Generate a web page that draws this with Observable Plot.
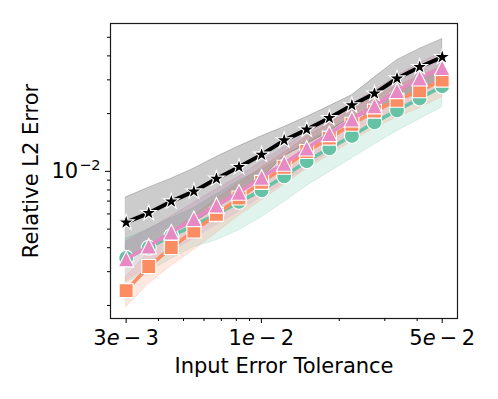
<!DOCTYPE html>
<html><head><meta charset="utf-8">
<script src="https://cdn.jsdelivr.net/npm/d3@7"></script>
<script src="https://cdn.jsdelivr.net/npm/@observablehq/plot@0.6"></script>
<style>body{margin:0;background:#fff} svg{display:block}</style>
</head><body><div id="chart"></div>
<script>
// Input error tolerance (x)
const tolerance = [0.003, 0.003668, 0.004484, 0.005482, 0.006702, 0.008194, 0.01002, 0.01225, 0.01497, 0.01831, 0.02238, 0.02736, 0.03345, 0.04090, 0.05];

// Series (drawing order): circle, square, triangle, star
const seriesNames = ["circle", "square", "triangle", "star"];
const seriesColors = ["#66c2a5", "#fc8d62", "#e78ac3", "#000000"];

const circleMean = [3.54e-3, 4.00e-3, 4.60e-3, 5.23e-3, 5.97e-3, 6.93e-3, 7.96e-3, 9.42e-3, 1.13e-2, 1.32e-2, 1.53e-2, 1.80e-2, 2.08e-2, 2.40e-2, 2.78e-2];
const circleSd   = [0.9e-3, 1.0e-3, 1.1e-3, 1.2e-3, 1.6e-3, 2.0e-3, 2.2e-3, 2.5e-3, 2.9e-3, 3.3e-3, 3.6e-3, 4.2e-3, 4.6e-3, 5.3e-3, 6.2e-3];

const squareMean = [2.39e-3, 3.19e-3, 4.01e-3, 4.89e-3, 5.97e-3, 7.27e-3, 8.76e-3, 1.05e-2, 1.27e-2, 1.49e-2, 1.76e-2, 2.06e-2, 2.35e-2, 2.63e-2, 2.99e-2];
const squareSd   = [0.43e-3, 0.6e-3, 0.8e-3, 1.0e-3, 1.2e-3, 1.4e-3, 1.7e-3, 2.0e-3, 2.4e-3, 2.8e-3, 3.3e-3, 3.8e-3, 4.4e-3, 4.9e-3, 5.5e-3];

const triangleMean = [3.49e-3, 4.07e-3, 4.82e-3, 5.66e-3, 6.65e-3, 7.77e-3, 9.30e-3, 1.10e-2, 1.32e-2, 1.57e-2, 1.87e-2, 2.19e-2, 2.63e-2, 3.06e-2, 3.47e-2];
const triangleSd   = [0.8e-3, 0.9e-3, 1.0e-3, 1.2e-3, 1.4e-3, 1.6e-3, 1.9e-3, 2.3e-3, 2.7e-3, 3.2e-3, 3.8e-3, 4.4e-3, 5.2e-3, 6.0e-3, 6.8e-3];

const starMean = [5.42e-3, 6.06e-3, 6.97e-3, 7.86e-3, 9.16e-3, 1.053e-2, 1.222e-2, 1.451e-2, 1.651e-2, 1.897e-2, 2.211e-2, 2.544e-2, 3.05e-2, 3.50e-2, 3.94e-2];
const starSd   = [1.90e-3, 2.16e-3, 2.19e-3, 2.47e-3, 2.72e-3, 2.97e-3, 3.01e-3, 2.52e-3, 2.69e-3, 2.87e-3, 2.82e-3, 5.39e-3, 7.5e-3, 8.5e-3, 9.5e-3];

// Axis ticks
const xMajorTicks = [0.003, 0.01, 0.05];
const xMajorLabels = ["3e-3", "1e-2", "5e-2"];
const xMinorTicks = [0.004, 0.005, 0.006, 0.007, 0.008, 0.009, 0.02, 0.03, 0.04];
const yMajorTicks = [0.01];
const yMinorTicks = [0.002, 0.003, 0.004, 0.005, 0.006, 0.007, 0.008, 0.009, 0.02, 0.03, 0.04, 0.05];

const means = [circleMean, squareMean, triangleMean, starMean];
const sds = [circleSd, squareSd, triangleSd, starSd];
const rows = [];
seriesNames.forEach((s, k) => {
  tolerance.forEach((t, i) => {
    rows.push({series: s, x: t, y: means[k][i], lo: means[k][i] - sds[k][i], hi: means[k][i] + sds[k][i]});
  });
});
const xTickRows = xMajorTicks.map((t, i) => ({x: t, label: xMajorLabels[i]}));

// matplotlib-like marker shapes (size = pi r^2)
const rad = size => Math.sqrt(size / Math.PI);
const mplSquare = {draw(c, size) { const r = rad(size); c.rect(-r, -r, 2 * r, 2 * r); }};
const mplTriangle = {draw(c, size) { const r = rad(size); c.moveTo(0, -r); c.lineTo(r, r); c.lineTo(-r, r); c.closePath(); }};
const mplStar = {draw(c, size) {
  const R = rad(size), ri = R * 0.381966;
  for (let i = 0; i < 10; i++) {
    const rr = i % 2 ? ri : R, a = -Math.PI / 2 + i * Math.PI / 5;
    const px = rr * Math.cos(a), py = rr * Math.sin(a);
    if (i === 0) c.moveTo(px, py); else c.lineTo(px, py);
  }
  c.closePath();
}};
const symbols = ["circle", mplSquare, mplTriangle, mplStar];
const markerR = [7.5, 7, 7.8, 8.3];
const lineW = [3.5, 3.5, 3.5, 4];

const marks = [];
seriesNames.forEach((s, k) => {
  marks.push(Plot.areaY(rows, {filter: d => d.series === s, x: "x", y1: "lo", y2: "hi",
    fill: seriesColors[k], fillOpacity: 0.2, stroke: seriesColors[k], strokeOpacity: 0.2, strokeWidth: 1}));
});
seriesNames.forEach((s, k) => {
  marks.push(Plot.line(rows, {filter: d => d.series === s, x: "x", y: "y", stroke: seriesColors[k], strokeWidth: lineW[k]}));
  marks.push(Plot.dot(rows, {filter: d => d.series === s, x: "x", y: "y", symbol: () => symbols[k], r: markerR[k],
    fill: seriesColors[k], stroke: "white", strokeWidth: 1.1}));
});
marks.push(
  Plot.frame({stroke: "#1a1a1a", strokeWidth: 1.2}),
  Plot.axisX(xMajorTicks, {tickSize: 5, tickFormat: () => "",
    label: "Input Error Tolerance", labelAnchor: "center", labelArrow: "none", labelOffset: 54}),
  Plot.text(xTickRows, {x: "x", text: "label", frameAnchor: "bottom", lineAnchor: "top", dy: 12, fontSize: 21}),
  Plot.axisX(xMinorTicks, {tickSize: 3, tickFormat: () => "", label: null}),
  Plot.axisY(yMajorTicks, {tickSize: 5, tickPadding: 5, tickFormat: () => "10-2",
    label: "Relative L2 Error", labelAnchor: "center", labelArrow: "none", labelOffset: 87}),
  Plot.axisY(yMinorTicks, {tickSize: 3, tickFormat: () => "", label: null})
);

const chart = Plot.plot({
  width: 498, height: 399,
  marginLeft: 110, marginRight: 41, marginTop: 23, marginBottom: 81,
  style: {fontFamily: "DejaVu Sans", fontSize: "21px", background: "white", color: "black", overflow: "visible"},
  x: {type: "log", domain: [2.61e-3, 5.73e-2]},
  y: {type: "log", domain: [1.71e-3, 5.9e-2]},
  marks
});
document.getElementById("chart").appendChild(chart);

// mathtext-like tick labels
const svgns = "http://www.w3.org/2000/svg";
d3.select(chart).selectAll("text").each(function() {
  const t = this.textContent;
  const m = /^(\d)e-(\d)$/.exec(t);
  if (m) {
    this.textContent = "";
    const a = document.createElementNS(svgns, "tspan"); a.textContent = m[1]; this.appendChild(a);
    const e = document.createElementNS(svgns, "tspan"); e.textContent = "e"; e.setAttribute("font-style", "italic"); this.appendChild(e);
    const b = document.createElementNS(svgns, "tspan"); b.textContent = "\u2009\u2212\u2009" + m[2]; this.appendChild(b);
  } else if (t === "10-2") {
    this.textContent = "";
    const a = document.createElementNS(svgns, "tspan"); a.textContent = "10"; this.appendChild(a);
    const b = document.createElementNS(svgns, "tspan"); b.textContent = "\u22122"; b.setAttribute("font-size", "14.5px"); b.setAttribute("dy", "-8"); b.setAttribute("dx", "1"); this.appendChild(b);
  }
});
</script>
</body></html>
